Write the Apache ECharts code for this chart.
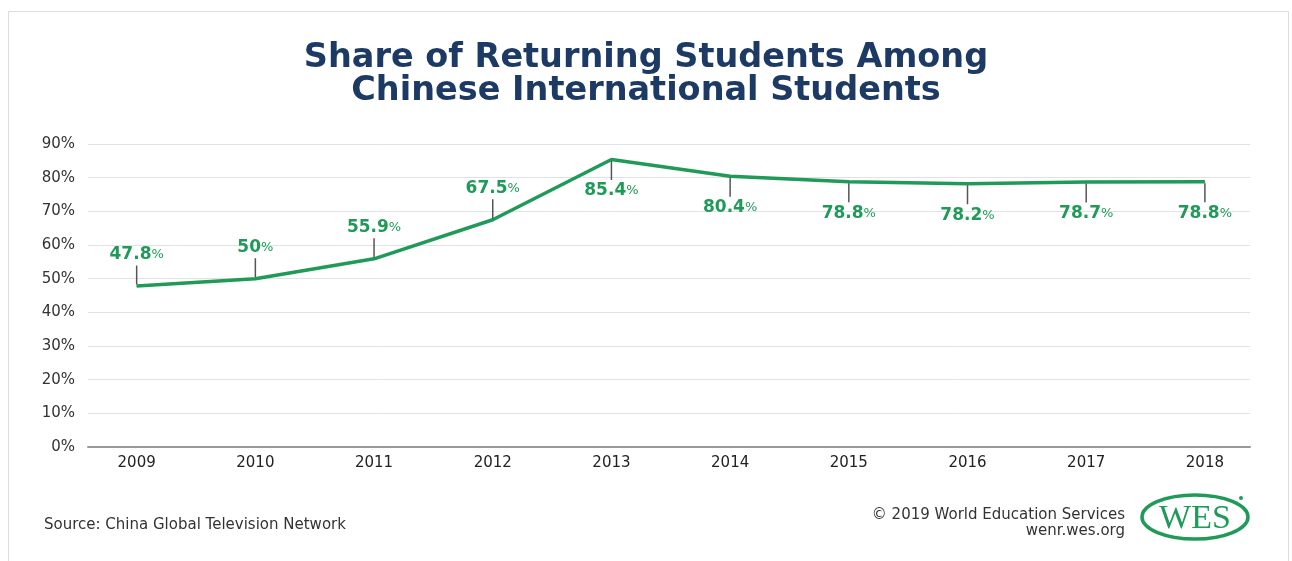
<!DOCTYPE html>
<html>
<head>
<meta charset="utf-8">
<title>Share of Returning Students Among Chinese International Students</title>
<script src="https://cdn.jsdelivr.net/npm/echarts/dist/echarts.min.js"></script>
<style>
  html, body { margin: 0; padding: 0; background: #fff; }
  #chart { width: 1292px; height: 561px; }
</style>
</head>
<body>
<div id="chart"></div>
<script>
// data
const years = [2009, 2010, 2011, 2012, 2013, 2014, 2015, 2016, 2017, 2018];
const shares = [47.8, 50, 55.9, 67.5, 85.4, 80.4, 78.8, 78.2, 78.7, 78.8];
const yTicks = [0, 10, 20, 30, 40, 50, 60, 70, 80, 90];

const green = '#1f9a58';
const navy = '#1c3a64';
const font = '"DejaVu Sans", sans-serif';

const chart = echarts.init(document.getElementById('chart'));

// labels for the rising years sit above the line, the rest below
const seriesData = years.map((y, i) => ({
  value: [y, shares[i]],
  label: {
    position: i < 4 ? 'top' : 'bottom',
    formatter: i < 4 ? '{v|' + shares[i] + '}{p|%}\n{bar|}' : '{bar|}\n{v|' + shares[i] + '}{p|%}'
  }
}));

chart.setOption({
  animation: false,
  title: {
    text: 'Share of Returning Students Among\nChinese International Students',
    left: 'center',
    top: 37,
    textStyle: {
      color: navy,
      fontFamily: font,
      fontWeight: 'bold',
      fontSize: 33.5,
      lineHeight: 33
    }
  },
  grid: {
    left: 88,
    right: 42,
    top: 144,
    bottom: 114
  },
  xAxis: {
    type: 'value',
    min: 2008.59,
    max: 2018.38,
    splitLine: { show: false },
    axisTick: { show: false },
    axisLine: { show: true, lineStyle: { color: '#999', width: 2 } },
    axisLabel: {
      customValues: years,
      formatter: v => String(v),
      color: '#222',
      fontFamily: font,
      fontSize: 15,
      margin: 9
    }
  },
  yAxis: {
    type: 'value',
    min: 0,
    max: 90,
    interval: 10,
    axisLine: { show: false },
    axisTick: { show: false },
    splitLine: { lineStyle: { color: '#e2e2e2', width: 1 } },
    axisLabel: {
      customValues: yTicks,
      formatter: '{value}%',
      color: '#333',
      fontFamily: font,
      fontSize: 15,
      margin: 13
    }
  },
  series: [{
    type: 'line',
    data: seriesData,
    symbol: 'circle',
    symbolSize: 1,
    itemStyle: { color: green },
    lineStyle: { color: green, width: 3.5 },
    label: {
      show: true,
      distance: 1,
      align: 'center',
      rich: {
        v: { fontSize: 17, fontWeight: 'bold', color: green, fontFamily: font, lineHeight: 22 },
        p: { fontSize: 13, color: green, fontFamily: font, lineHeight: 22 },
        bar: { width: 1.5, height: 19, backgroundColor: '#555' }
      }
    }
  }],
  graphic: [
    {
      type: 'rect',
      shape: { x: 8.5, y: 11.5, width: 1280, height: 600 },
      style: { fill: 'none', stroke: '#ddd', lineWidth: 1 },
      silent: true
    },
    {
      type: 'text',
      left: 44,
      top: 518,
      style: { text: 'Source: China Global Television Network', fill: '#333', font: '15px ' + font }
    },
    {
      type: 'text',
      x: 1125,
      y: 515,
      style: {
        text: '© 2019 World Education Services',
        fill: '#333',
        font: '15px ' + font,
        align: 'right',
        verticalAlign: 'middle'
      }
    },
    {
      type: 'text',
      x: 1125,
      y: 531,
      style: {
        text: 'wenr.wes.org',
        fill: '#333',
        font: '15px ' + font,
        align: 'right',
        verticalAlign: 'middle'
      }
    },
    {
      type: 'ellipse',
      shape: { cx: 1195, cy: 517, rx: 53, ry: 22 },
      style: { fill: 'none', stroke: green, lineWidth: 3.5 }
    },
    {
      type: 'circle',
      shape: { cx: 1241, cy: 498, r: 2 },
      style: { fill: green }
    },
    {
      type: 'text',
      x: 1195,
      y: 519,
      style: {
        text: 'WES',
        fill: green,
        font: '34px "Liberation Serif", serif',
        align: 'center',
        verticalAlign: 'middle'
      }
    }
  ]
});
</script>
</body>
</html>
